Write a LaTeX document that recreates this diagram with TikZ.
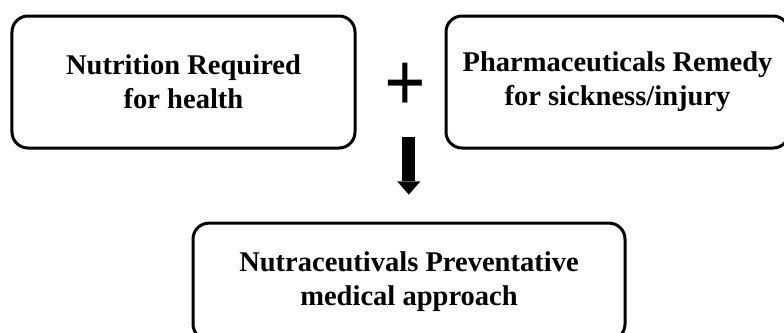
\documentclass[tikz,border=0pt]{standalone}
\usepackage{fontspec}
\setmainfont{Liberation Serif}
\usetikzlibrary{arrows.meta, positioning}

\begin{document}
\begin{tikzpicture}[
    box/.style={draw, rectangle, rounded corners=0.4cm, line width=0.075cm, minimum width=8.575cm, minimum height=3.3cm, text centered, align=center, font=\bfseries\fontsize{20.3}{24}\selectfont},
    sign/.style={inner sep=0pt, font=\bfseries\fontsize{52}{52}\selectfont},
    arrow/.style={-{Triangle[width=0.58cm, length=0.33cm, line width=0pt]}, line width=0.32cm}
]
\useasboundingbox (0,0) rectangle (19.6,-8.3);
\clip (0,0) rectangle (19.6,-8.3);

% --- Nodos ---
\node (nutrition) [box] at (4.5875,-2.05) {Nutrition Required\\for health};
\node (pharma) [box, right=2.2cm of nutrition] {Pharmaceuticals Remedy\\for sickness/injury};
\node (plus) [sign] at (10.13,-2.19) {\scalebox{1}[1.17]{+}};
\node (nutraceuticals) [box, minimum width=10.8cm, minimum height=2.925cm] at (10.225,-7.04) {Nutraceutivals Preventative\\medical approach};

% --- Flecha ---
\coordinate (arrowtop) at (10.22,-3.43);
\draw [arrow, shorten >=0.675cm] (arrowtop) -- (arrowtop |- nutraceuticals.north);

\end{tikzpicture}
\end{document}
